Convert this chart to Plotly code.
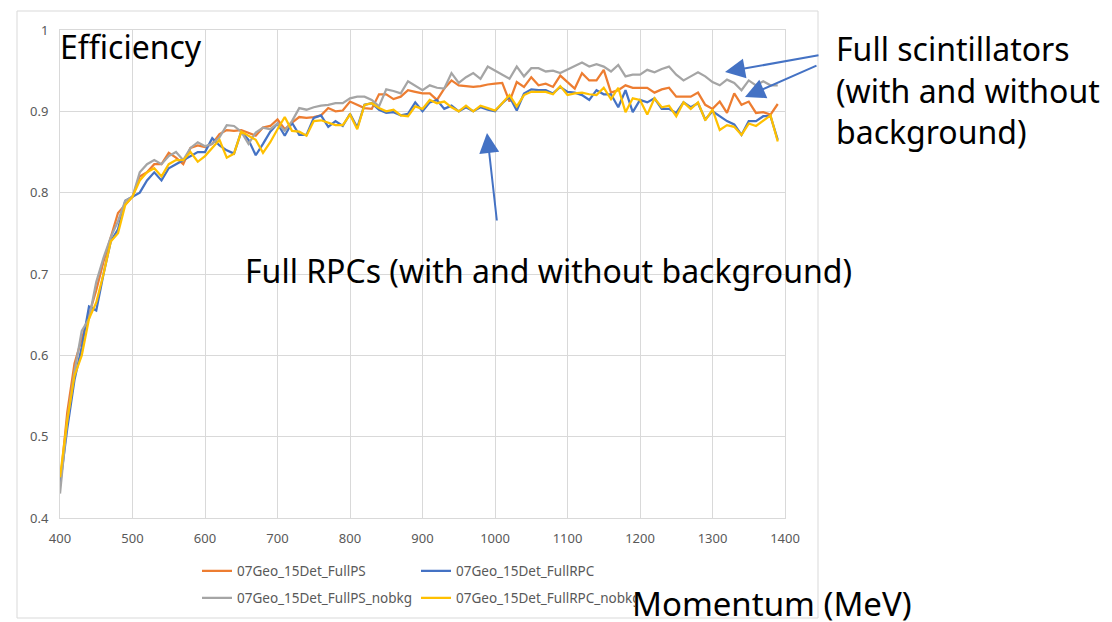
import plotly.graph_objects as go

# momentum bins (MeV), 10 MeV steps
momentum = list(range(400, 1400, 10))

full_ps = [
    0.440, 0.530, 0.590, 0.620, 0.650, 0.680, 0.715, 0.745, 0.775, 0.785,
    0.795, 0.820, 0.825, 0.835, 0.835, 0.849, 0.843, 0.835, 0.855, 0.858,
    0.856, 0.860, 0.872, 0.877, 0.876, 0.877, 0.873, 0.870, 0.880, 0.882,
    0.890, 0.878, 0.886, 0.893, 0.892, 0.893, 0.895, 0.904, 0.900, 0.901,
    0.912, 0.908, 0.904, 0.903, 0.921, 0.921, 0.915, 0.918, 0.926, 0.924,
    0.922, 0.922, 0.914, 0.928, 0.938, 0.932, 0.931, 0.930, 0.931, 0.933,
    0.934, 0.935, 0.912, 0.936, 0.930, 0.942, 0.932, 0.934, 0.930, 0.944,
    0.936, 0.928, 0.947, 0.938, 0.938, 0.951, 0.923, 0.926, 0.932, 0.929,
    0.929, 0.929, 0.923, 0.927, 0.929, 0.918, 0.918, 0.918, 0.923, 0.908,
    0.903, 0.912, 0.898, 0.922, 0.908, 0.912, 0.898, 0.899, 0.896, 0.909,
]

full_rpc = [
    0.440, 0.510, 0.570, 0.610, 0.660, 0.655, 0.700, 0.740, 0.755, 0.790,
    0.795, 0.800, 0.815, 0.825, 0.815, 0.830, 0.835, 0.840, 0.845, 0.850,
    0.850, 0.867, 0.858, 0.852, 0.848, 0.875, 0.865, 0.846, 0.860, 0.875,
    0.885, 0.870, 0.886, 0.871, 0.871, 0.892, 0.895, 0.881, 0.888, 0.882,
    0.897, 0.880, 0.908, 0.910, 0.902, 0.898, 0.899, 0.895, 0.897, 0.911,
    0.900, 0.911, 0.914, 0.903, 0.907, 0.900, 0.905, 0.900, 0.905, 0.902,
    0.900, 0.910, 0.918, 0.901, 0.922, 0.927, 0.926, 0.926, 0.922, 0.930,
    0.924, 0.923, 0.920, 0.914, 0.926, 0.921, 0.921, 0.905, 0.926, 0.899,
    0.914, 0.911, 0.916, 0.903, 0.903, 0.898, 0.911, 0.905, 0.910, 0.890,
    0.900, 0.894, 0.888, 0.884, 0.871, 0.888, 0.888, 0.894, 0.894, 0.865,
]

full_ps_nobkg = [
    0.430, 0.520, 0.580, 0.630, 0.645, 0.690, 0.720, 0.745, 0.765, 0.790,
    0.795, 0.825, 0.835, 0.840, 0.835, 0.845, 0.850, 0.840, 0.855, 0.862,
    0.857, 0.860, 0.868, 0.883, 0.882, 0.875, 0.860, 0.874, 0.880, 0.878,
    0.885, 0.876, 0.888, 0.904, 0.902, 0.905, 0.907, 0.908, 0.910, 0.910,
    0.916, 0.918, 0.918, 0.914, 0.906, 0.927, 0.925, 0.922, 0.937, 0.932,
    0.926, 0.932, 0.929, 0.928, 0.947, 0.935, 0.942, 0.947, 0.940, 0.955,
    0.950, 0.945, 0.940, 0.955, 0.943, 0.953, 0.953, 0.949, 0.950, 0.947,
    0.951, 0.955, 0.960, 0.955, 0.958, 0.955, 0.949, 0.957, 0.943, 0.945,
    0.945, 0.951, 0.948, 0.952, 0.955, 0.945, 0.938, 0.943, 0.948, 0.943,
    0.936, 0.932, 0.939, 0.935, 0.926, 0.938, 0.932, 0.937, 0.932, 0.932,
]

full_rpc_nobkg = [
    0.450, 0.520, 0.575, 0.600, 0.645, 0.665, 0.700, 0.740, 0.750, 0.785,
    0.795, 0.815, 0.825, 0.830, 0.820, 0.835, 0.840, 0.840, 0.850, 0.838,
    0.845, 0.855, 0.865, 0.843, 0.848, 0.875, 0.870, 0.865, 0.849, 0.862,
    0.878, 0.893, 0.876, 0.875, 0.870, 0.888, 0.889, 0.886, 0.883, 0.883,
    0.896, 0.878, 0.908, 0.910, 0.904, 0.900, 0.902, 0.895, 0.894, 0.906,
    0.903, 0.914, 0.910, 0.912, 0.905, 0.900, 0.907, 0.900, 0.907, 0.904,
    0.901, 0.910, 0.920, 0.906, 0.920, 0.924, 0.924, 0.924, 0.921, 0.931,
    0.920, 0.922, 0.923, 0.921, 0.920, 0.929, 0.915, 0.929, 0.899, 0.916,
    0.914, 0.896, 0.916, 0.905, 0.907, 0.894, 0.911, 0.903, 0.911, 0.889,
    0.902, 0.877, 0.883, 0.881, 0.871, 0.885, 0.882, 0.888, 0.895, 0.863,
]

x_ticks = [400, 500, 600, 700, 800, 900, 1000, 1100, 1200, 1300, 1400]
y_ticks = [0.4, 0.5, 0.6, 0.7, 0.8, 0.9, 1.0]
y_tick_text = ['0.4', '0.5', '0.6', '0.7', '0.8', '0.9', '1']

# page body adds an 8px offset, so the figure is drawn 8px smaller
OFF = 8
W, H = 1112 - OFF, 622 - OFF
PL, PR, PT, PB = 60, 785, 30, 518          # plot area in screen pixels
L, T = PL - OFF, PT - OFF
R, B = W - (PR - OFF), H - (PB - OFF)
PW, PH = PR - PL, PB - PT
FONT = 'Noto Sans'
GRID = '#d9d9d9'
TICK = '#595959'
ARROW = '#4472c4'


def px(x):
    return (x - PL) / PW


def py(y):
    return (PB - y) / PH


fig = go.Figure()

series = [
    ('07Geo_15Det_FullPS', full_ps, '#ed7d31', 'legend'),
    ('07Geo_15Det_FullRPC', full_rpc, '#4472c4', 'legend'),
    ('07Geo_15Det_FullPS_nobkg', full_ps_nobkg, '#a5a5a5', 'legend2'),
    ('07Geo_15Det_FullRPC_nobkg', full_rpc_nobkg, '#ffc000', 'legend2'),
]
for name, vals, color, leg in series:
    fig.add_trace(go.Scatter(
        x=momentum, y=vals, mode='lines', name=name,
        line=dict(color=color, width=2.25),
        legend=leg,
        hovertemplate='p: %{x} MeV<br>eff: %{y}'
    ))

leg_style = dict(
    orientation='h', xref='paper', yref='paper', xanchor='left', yanchor='middle',
    font=dict(family=FONT, size=13.5, color=TICK),
    entrywidthmode='pixels', entrywidth=174,
    bgcolor='rgba(0,0,0,0)', itemclick=False, itemdoubleclick=False,
)

fig.update_layout(
    width=W, height=H,
    margin=dict(l=L, r=R, t=T, b=B, autoexpand=False),
    paper_bgcolor='white', plot_bgcolor='white',
    font=dict(family=FONT, color=TICK),
    xaxis=dict(range=[400, 1400], tickvals=x_ticks, showgrid=True, gridcolor=GRID,
               gridwidth=1, showline=True, linecolor=GRID, mirror=True, zeroline=False,
               ticks='', tickfont=dict(size=13, color=TICK), ticklabelstandoff=8),
    yaxis=dict(range=[0.4, 1.0], tickvals=y_ticks, ticktext=y_tick_text, showgrid=True,
               gridcolor=GRID, gridwidth=1, showline=True, linecolor=GRID, mirror=True,
               zeroline=False, ticks='', tickfont=dict(size=13, color=TICK),
               ticklabelstandoff=8),
    legend=dict(x=px(197), y=py(571), **leg_style),
    legend2=dict(x=px(197), y=py(598), **leg_style),
    showlegend=True,
)

# outer chart-area frame
fig.add_shape(type='rect', xref='paper', yref='paper',
              x0=px(17), x1=px(818), y0=py(618), y1=py(11),
              line=dict(color=GRID, width=1), layer='below')

big = dict(family=FONT, size=32, color='black')
fig.add_annotation(text='Efficiency', xref='paper', yref='paper', x=px(58), y=py(46),
                   xanchor='left', yanchor='middle', showarrow=False, font=big)
fig.add_annotation(text='Full RPCs (with and without background)', xref='paper', yref='paper',
                   x=px(243), y=py(270), xanchor='left', yanchor='middle',
                   showarrow=False, font=big)
fig.add_annotation(text='Full scintillators<br>(with and without<br>background)',
                   xref='paper', yref='paper', x=px(834), y=py(90), xanchor='left',
                   yanchor='middle', align='left', showarrow=False, font=big)
fig.add_annotation(text='Momentum (MeV)', xref='paper', yref='paper', x=px(630), y=py(603),
                   xanchor='left', yanchor='middle', showarrow=False,
                   font=dict(family=FONT, size=33, color='black'))

# arrows: (head x, head y, tail x, tail y) in screen pixels
arrows = [(487, 133, 497, 222), (725, 72, 820, 55), (745, 97, 818, 65)]
for hx, hy, tx, ty in arrows:
    fig.add_annotation(text='', xref='paper', yref='paper', x=px(hx), y=py(hy),
                       ax=tx - hx, ay=ty - hy, axref='pixel', ayref='pixel',
                       showarrow=True, arrowhead=2, arrowsize=2, arrowwidth=2,
                       arrowcolor=ARROW)

fig.write_html('out.html')
